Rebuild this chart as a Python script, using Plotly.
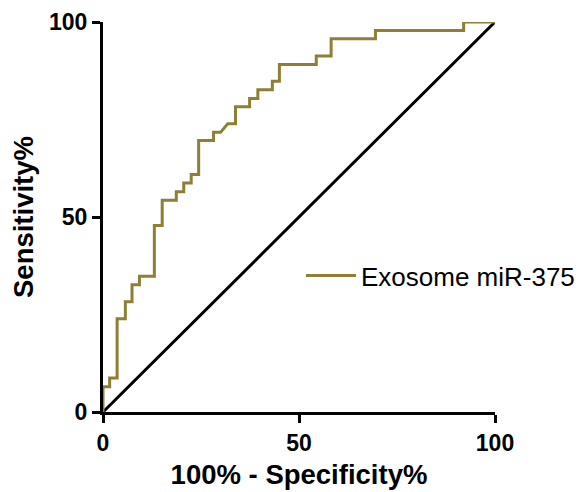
import plotly.graph_objects as go

# ROC table: 100% - Specificity% (x) and Sensitivity% (y)
fpr = [0, 0, 1.7, 1.7, 3.6, 3.6, 5.7, 5.7, 7.4, 7.4, 9.3, 9.3, 13.1, 13.1, 15.1, 15.1,
       18.7, 18.7, 20.6, 20.6, 22.5, 22.5, 24.4, 24.4, 28.2, 28.2, 30.0, 31.8, 33.8, 33.8,
       37.4, 37.4, 39.5, 39.5, 43.2, 43.2, 45.0, 45.0, 54.4, 54.4, 58.2, 58.2, 69.5, 69.5,
       92.0, 92.0, 100]
sens = [0, 6.5, 6.5, 8.7, 8.7, 23.9, 23.9, 28.3, 28.3, 32.6, 32.6, 34.8, 34.8, 47.8, 47.8, 54.3,
        54.3, 56.5, 56.5, 58.7, 58.7, 60.9, 60.9, 69.6, 69.6, 71.7, 71.7, 73.9, 73.9, 78.3,
        78.3, 80.4, 80.4, 82.6, 82.6, 84.8, 84.8, 89.1, 89.1, 91.3, 91.3, 95.7, 95.7, 97.8,
        97.8, 100, 100]
ref_x = [0, 100]
ref_y = [0, 100]
ticks = [0, 50, 100]
series_name = "Exosome miR-375"

FONT = "Liberation Sans, Arial, sans-serif"
OLIVE = "rgb(143,127,52)"

fig = go.Figure()
fig.add_trace(go.Scatter(x=ref_x, y=ref_y, mode="lines", line=dict(color="black", width=3),
                         showlegend=False, cliponaxis=False, hoverinfo="skip"))
fig.add_trace(go.Scatter(x=fpr, y=sens, mode="lines", name=series_name,
                         line=dict(color=OLIVE, width=3), cliponaxis=False))

axis_common = dict(range=[0, 100], tickvals=ticks, ticktext=[str(t) for t in ticks],
                   showline=True, linecolor="black", linewidth=3, ticks="outside",
                   ticklen=8, tickwidth=3, tickcolor="black", showgrid=False, zeroline=False,
                   layer="below traces", automargin=False,
                   tickfont=dict(family=FONT, size=23, color="black", weight="bold"))

fig.update_layout(
    width=584, height=492,
    margin=dict(l=103, r=89, t=22, b=80, autoexpand=False),
    paper_bgcolor="white", plot_bgcolor="white",
    xaxis=dict(**axis_common,
               title=dict(text="<b>100% - Specificity%</b>", standoff=11,
                          font=dict(family=FONT, size=27.5, color="black"))),
    yaxis=dict(**axis_common,
               title=dict(text="<b>Sensitivity%</b>", standoff=8,
                          font=dict(family=FONT, size=27.5, color="black"))),
    legend=dict(x=0.505, y=0.35, xanchor="left", yanchor="middle",
                font=dict(family=FONT, size=26, color="black"),
                bgcolor="rgba(0,0,0,0)", itemwidth=50),
    showlegend=True,
)

fig.write_html("out.html", config={"displayModeBar": False},
               post_script="document.body.style.margin='0';document.body.style.overflow='hidden';")
